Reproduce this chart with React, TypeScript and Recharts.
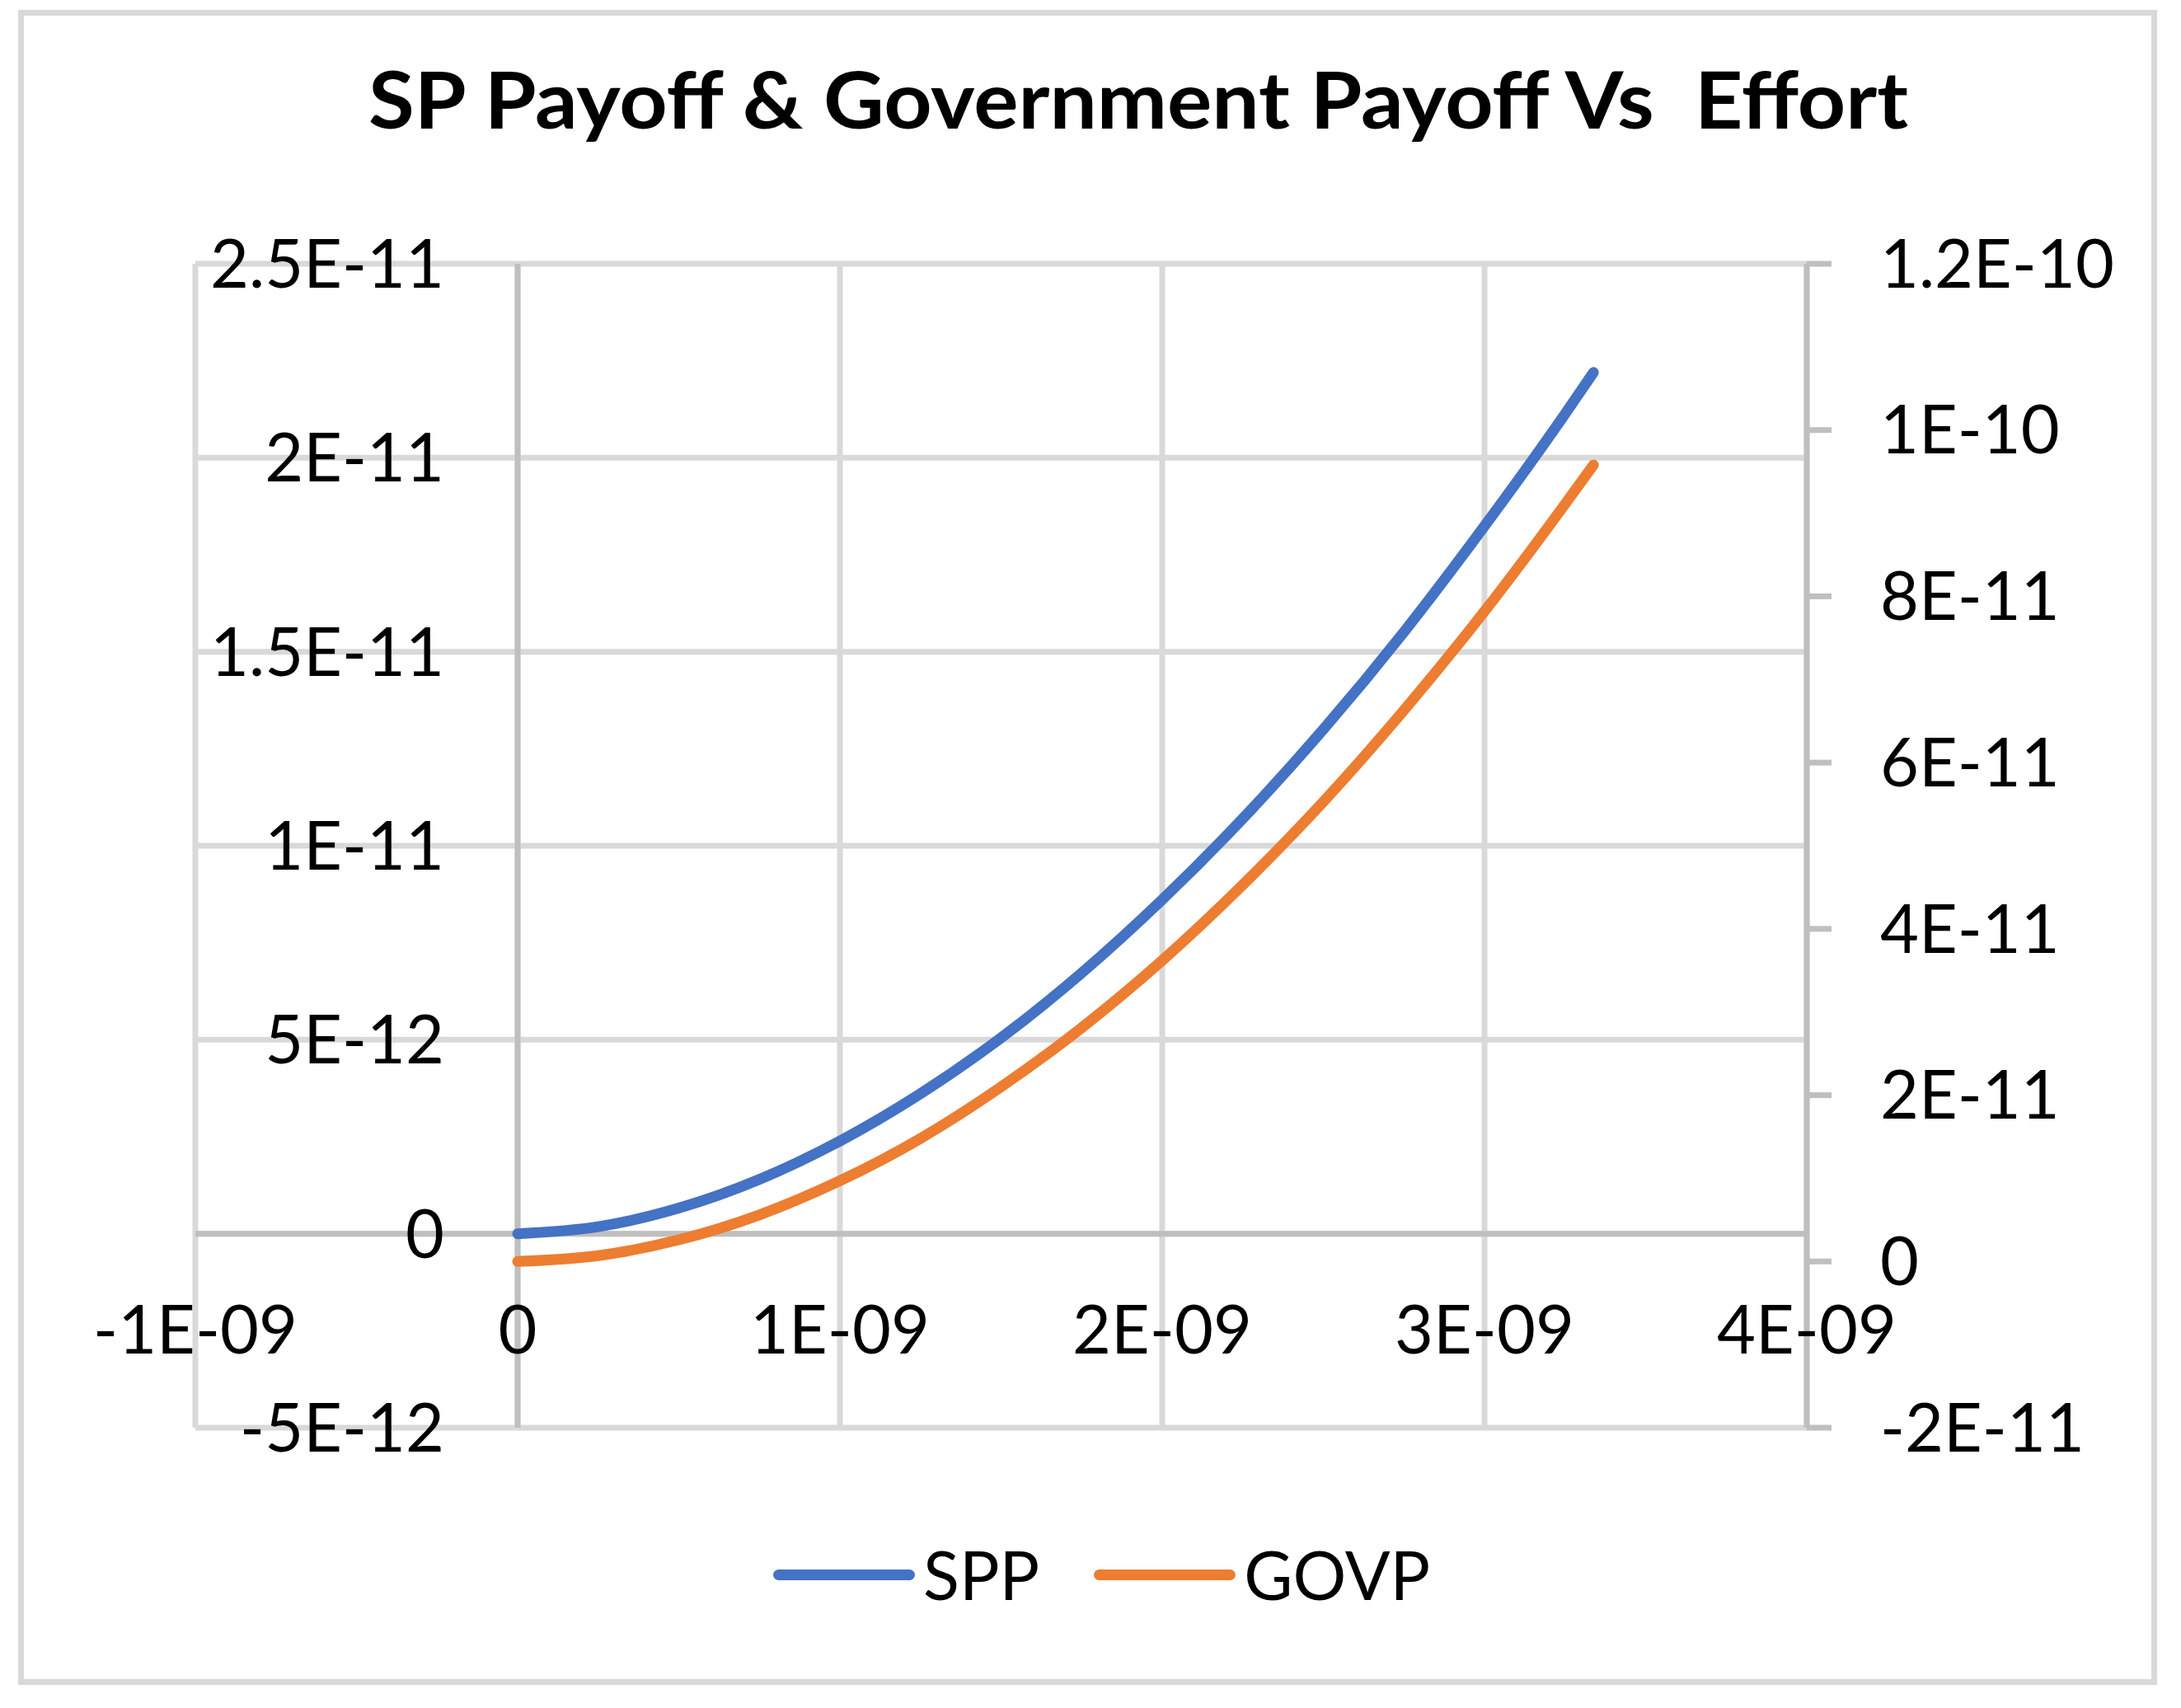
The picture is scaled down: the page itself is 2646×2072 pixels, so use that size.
import { LineChart, Line, XAxis, YAxis, CartesianGrid, ReferenceLine } from 'recharts'

const title = 'SP Payoff & Government Payoff Vs  Effort'

// effort (x) and the two payoff series
const effort = [0, 2.5e-10, 5e-10, 7.5e-10, 1e-9, 1.25e-9, 1.5e-9, 1.75e-9, 2e-9, 2.25e-9, 2.5e-9, 2.75e-9, 3e-9, 3.25e-9, 3.338e-9]
const spp = [0, 1.8e-13, 6.6e-13, 1.4e-12, 2.39e-12, 3.61e-12, 5.05e-12, 6.72e-12, 8.61e-12, 1.07e-11, 1.3e-11, 1.551e-11, 1.824e-11, 2.113e-11, 2.22e-11]
const govp = [0, 7e-13, 2.6e-12, 5.6e-12, 9.7e-12, 1.48e-11, 2.1e-11, 2.81e-11, 3.62e-11, 4.53e-11, 5.53e-11, 6.63e-11, 7.82e-11, 9.11e-11, 9.58e-11]

const xTicks = [-1e-9, 0, 1e-9, 2e-9, 3e-9, 4e-9]
const leftTicks = [-5e-12, 0, 5e-12, 1e-11, 1.5e-11, 2e-11, 2.5e-11]
const rightTicks = [-2e-11, 0, 2e-11, 4e-11, 6e-11, 8e-11, 1e-10, 1.2e-10]

const series = [
  { key: 'SPP', color: '#4472C4', axis: 'left' },
  { key: 'GOVP', color: '#ED7D31', axis: 'right' },
]

const data = effort.map((x, i) => ({ x, SPP: spp[i], GOVP: govp[i] }))

const FONT = 'Lato, "Open Sans", sans-serif'
const FS = 81

// Excel style: 2.5E-11, -1E-09, 0
function sci(v: number) {
  if (v === 0) return '0'
  const [m, e] = v.toExponential().split('e')
  const ex = parseInt(e, 10)
  return m + 'E' + (ex < 0 ? '-' : '+') + String(Math.abs(ex)).padStart(2, '0')
}

// left labels sit just left of the x = 0 axis, as Excel does
const leftTick = (p: any) => (
  <text key={p.index} x={p.x + 302} y={p.y + 29} textAnchor="end" fill="#000" fontSize={FS} fontFamily={FONT}>
    {sci(p.payload.value)}
  </text>
)

// bottom labels hang under the y = 0 axis
const bottomTick = (p: any) => (
  <text key={p.index} x={p.x} y={p.y - 90} textAnchor="middle" fill="#000" fontSize={FS} fontFamily={FONT}>
    {sci(p.payload.value)}
  </text>
)

export default function App() {
  return (
    <div style={{ position: 'absolute', left: 0, top: 0, width: 2646, height: 2072, background: '#fff', fontFamily: FONT }}>
      <div style={{ position: 'absolute', left: 22, top: 12, width: 2595, height: 2032, border: '7px solid #d9d9d9', boxSizing: 'border-box' }} />
      <svg width={2646} height={220} style={{ position: 'absolute', left: 0, top: 0 }}>
        <text x={1381} y={156} textAnchor="middle" fontFamily={FONT} fontWeight={700} fontSize={96} fill="#000"
          textLength={1868} lengthAdjust="spacingAndGlyphs" style={{ whiteSpace: 'pre' }}>
          {title}
        </text>
      </svg>
      <div style={{ position: 'absolute', left: 0, top: 0 }}>
        <LineChart width={2646} height={2072} data={data} margin={{ top: 320, right: 54, bottom: 330, left: 227 }}>
          <CartesianGrid yAxisId="left" stroke="#d9d9d9" strokeWidth={7} />
          <XAxis dataKey="x" type="number" domain={[-1e-9, 4e-9]} ticks={xTicks} interval={0}
            height={10} axisLine={false} tickLine={false} tickSize={0} tickMargin={0} tick={bottomTick} />
          <YAxis yAxisId="left" type="number" domain={[-5e-12, 2.5e-11]} ticks={leftTicks} interval={0}
            width={10} axisLine={false} tickLine={false} tickSize={0} tickMargin={0} tick={leftTick} />
          <YAxis yAxisId="right" orientation="right" type="number" domain={[-2e-11, 1.2e-10]} ticks={rightTicks} interval={0}
            width={400} tickFormatter={sci} tickSize={30} tickMargin={59}
            axisLine={{ stroke: '#bfbfbf', strokeWidth: 7 }} tickLine={{ stroke: '#bfbfbf', strokeWidth: 7 }}
            tick={{ fill: '#000', fontSize: FS, fontFamily: FONT }} />
          <ReferenceLine yAxisId="left" y={0} stroke="#bfbfbf" strokeWidth={7} />
          <ReferenceLine yAxisId="left" x={0} stroke="#bfbfbf" strokeWidth={7} />
          {series.map(s => (
            <Line key={s.key} yAxisId={s.axis} type="monotone" dataKey={s.key} stroke={s.color} strokeWidth={13}
              strokeLinecap="round" dot={false} isAnimationActive={false} />
          ))}
        </LineChart>
      </div>
      <div style={{ position: 'absolute', left: 938, top: 1866, height: 88, display: 'flex', alignItems: 'center' }}>
        {series.map((s, i) => (
          <div key={s.key} style={{ display: 'flex', alignItems: 'center', marginLeft: i === 0 ? 0 : 66 }}>
            <div style={{ width: 172, height: 13, borderRadius: 7, background: s.color }} />
            <span style={{ marginLeft: 10, fontSize: FS, fontFamily: FONT, color: '#000', lineHeight: '88px' }}>{s.key}</span>
          </div>
        ))}
      </div>
    </div>
  )
}
